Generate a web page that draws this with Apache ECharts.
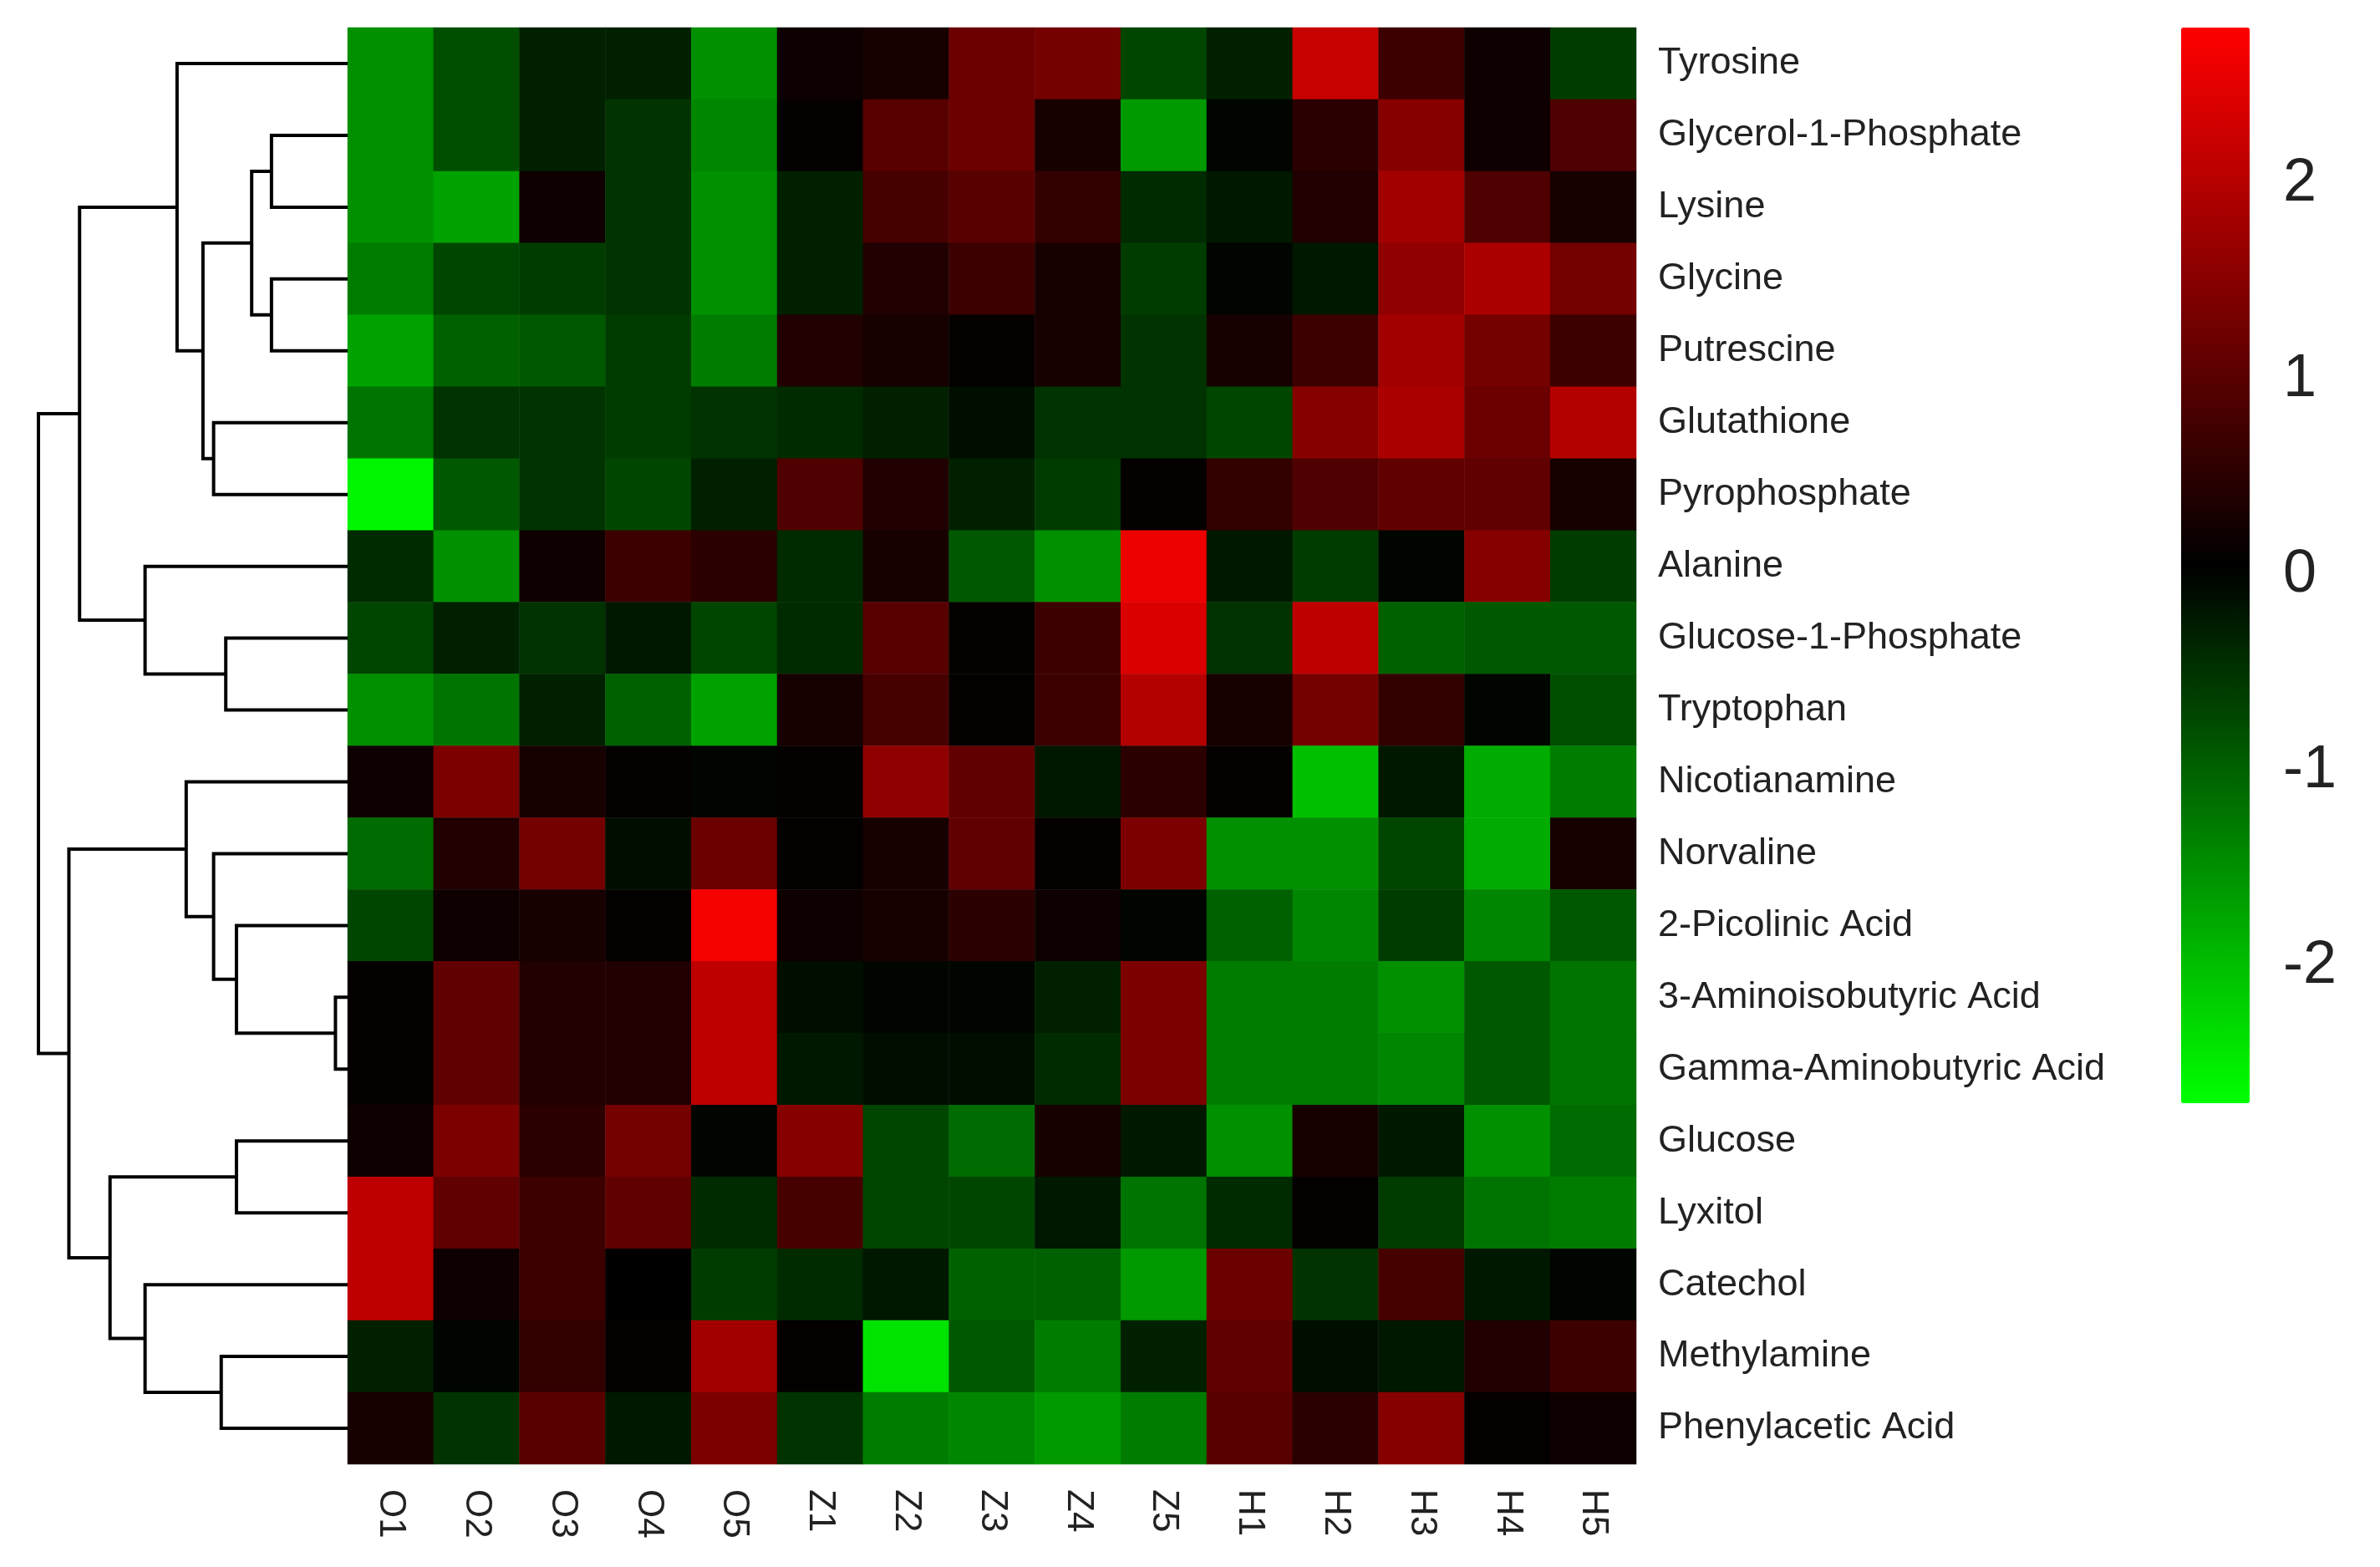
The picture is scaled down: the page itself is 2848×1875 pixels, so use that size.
<!DOCTYPE html>
<html style="height: 100%">
<head>
    <meta charset="utf-8">
</head>
<body style="height: 100%; margin: 0; background: #fff">
    <div id="container" style="height: 100%"></div>
    <script type="text/javascript" src="https://cdn.jsdelivr.net/npm/echarts@6/dist/echarts.min.js"></script>
    <script type="text/javascript">
        var samples = ['O1', 'O2', 'O3', 'O4', 'O5', 'Z1', 'Z2', 'Z3', 'Z4', 'Z5', 'H1', 'H2', 'H3', 'H4', 'H5'];
        var metabolites = ['Tyrosine', 'Glycerol-1-Phosphate', 'Lysine', 'Glycine', 'Putrescine', 'Glutathione',
            'Pyrophosphate', 'Alanine', 'Glucose-1-Phosphate', 'Tryptophan', 'Nicotianamine', 'Norvaline',
            '2-Picolinic Acid', '3-Aminoisobutyric Acid', 'Gamma-Aminobutyric Acid', 'Glucose', 'Lyxitol',
            'Catechol', 'Methylamine', 'Phenylacetic Acid'];
        var values = [
            [-1.5, -0.8, -0.3, -0.3, -1.5, 0.2, 0.3, 1.2, 1.3, -0.7, -0.3, 2.2, 0.7, 0.2, -0.6],
            [-1.5, -0.8, -0.3, -0.5, -1.4, 0.1, 1.0, 1.2, 0.3, -1.6, 0.0, 0.5, 1.5, 0.2, 0.9],
            [-1.5, -1.7, 0.2, -0.5, -1.5, -0.3, 0.8, 1.0, 0.6, -0.4, -0.2, 0.4, 1.8, 0.9, 0.3],
            [-1.3, -0.7, -0.6, -0.5, -1.5, -0.3, 0.4, 0.7, 0.3, -0.6, 0.0, -0.2, 1.6, 1.9, 1.3],
            [-1.7, -1.0, -0.9, -0.6, -1.3, 0.4, 0.3, 0.1, 0.3, -0.5, 0.3, 0.7, 1.8, 1.3, 0.7],
            [-1.2, -0.5, -0.5, -0.6, -0.5, -0.4, -0.3, -0.1, -0.5, -0.5, -0.7, 1.5, 1.9, 1.2, 2.0],
            [-2.6, -0.9, -0.5, -0.7, -0.3, 0.9, 0.4, -0.3, -0.6, 0.1, 0.6, 0.9, 1.1, 1.1, 0.3],
            [-0.4, -1.5, 0.2, 0.7, 0.5, -0.4, 0.3, -0.9, -1.5, 2.6, -0.2, -0.6, 0.0, 1.5, -0.6],
            [-0.7, -0.3, -0.5, -0.2, -0.7, -0.4, 1.0, 0.1, 0.7, 2.4, -0.5, 2.1, -1.0, -0.9, -0.9],
            [-1.5, -1.2, -0.3, -1.0, -1.7, 0.3, 0.8, 0.1, 0.7, 2.0, 0.3, 1.3, 0.6, 0.0, -0.8],
            [0.2, 1.4, 0.3, 0.1, 0.0, 0.1, 1.6, 1.1, -0.2, 0.5, 0.1, -2.0, -0.2, -1.8, -1.3],
            [-1.1, 0.4, 1.3, -0.1, 1.2, 0.1, 0.3, 1.1, 0.1, 1.4, -1.5, -1.5, -0.7, -1.8, 0.3],
            [-0.7, 0.2, 0.3, 0.1, 2.7, 0.2, 0.3, 0.5, 0.2, 0.0, -1.0, -1.4, -0.6, -1.4, -0.9],
            [0.1, 1.1, 0.4, 0.4, 2.1, -0.1, 0.0, 0.0, -0.3, 1.4, -1.3, -1.3, -1.5, -0.9, -1.2],
            [0.1, 1.1, 0.4, 0.4, 2.1, -0.2, -0.1, -0.1, -0.4, 1.4, -1.3, -1.3, -1.4, -0.9, -1.2],
            [0.2, 1.4, 0.5, 1.3, 0.0, 1.5, -0.7, -1.1, 0.3, -0.2, -1.5, 0.3, -0.2, -1.5, -1.1],
            [2.1, 1.1, 0.7, 1.1, -0.4, 0.8, -0.7, -0.7, -0.2, -1.2, -0.4, 0.1, -0.6, -1.2, -1.3],
            [2.1, 0.2, 0.7, 0.05, -0.6, -0.4, -0.2, -1.0, -1.0, -1.6, 1.2, -0.5, 0.8, -0.2, 0.0],
            [-0.3, 0.0, 0.6, 0.1, 1.8, 0.1, -2.4, -0.9, -1.3, -0.3, 1.1, -0.1, -0.2, 0.4, 0.7],
            [0.3, -0.5, 1.0, -0.2, 1.4, -0.5, -1.3, -1.4, -1.6, -1.3, 1.0, 0.5, 1.5, 0.1, 0.2]
        ];
        // dendrogram merges: [childA, childB, height]; leaves are 0..19, merged nodes are 'n<index>'
        var merges = [
            [1, 2, 50], [3, 4, 50], ['n0', 'n1', 63], [5, 6, 88], ['n2', 'n3', 95], [0, 'n4', 112],
            [8, 9, 80], [7, 'n6', 133], ['n5', 'n7', 176],
            [13, 14, 8], [12, 'n9', 73], [11, 'n10', 88], [10, 'n11', 106],
            [15, 16, 73], [18, 19, 83], [17, 'n14', 133], ['n13', 'n15', 156], ['n12', 'n16', 183],
            ['n8', 'n17', 203]
        ];
        var colorTicks = [-2, -1, 0, 1, 2];

        var heatData = [];
        values.forEach(function (row, r) {
            row.forEach(function (v, c) { heatData.push([c, r, v]); });
        });

        var nodes = [];
        function pos(k) {
            if (typeof k === 'number') return { y: k, h: 0 };
            return nodes[parseInt(k.slice(1))];
        }
        var links = [];
        merges.forEach(function (m) {
            var a = pos(m[0]), b = pos(m[1]), h = m[2];
            links.push({ coords: [[a.h, a.y], [h, a.y], [h, b.y], [b.h, b.y]] });
            nodes.push({ y: (a.y + b.y) / 2, h: h });
        });

        var font = 'Liberation Sans, Arial, sans-serif';
        var myChart = echarts.init(document.getElementById('container'));
        var option = {
            animation: false,
            grid: [
                { left: 416, right: 890, top: 33, bottom: 123 },
                { left: 46, right: 2432, top: 33, bottom: 123 },
                { left: 2610, right: 156, top: 33, bottom: 555 }
            ],
            xAxis: [
                {
                    type: 'category', data: samples, gridIndex: 0,
                    axisLine: { show: false }, axisTick: { show: false }, splitLine: { show: false },
                    axisLabel: { rotate: -90, fontSize: 44, color: '#222', fontFamily: font, margin: 30 }
                },
                { type: 'value', gridIndex: 1, min: 0, max: 203, inverse: true, show: false },
                { type: 'value', gridIndex: 2, min: 0, max: 1, show: false }
            ],
            yAxis: [
                {
                    type: 'category', data: metabolites, gridIndex: 0, inverse: true, position: 'right',
                    axisLine: { show: false }, axisTick: { show: false }, splitLine: { show: false },
                    axisLabel: { fontSize: 45, color: '#222', fontFamily: font, margin: 26, align: 'left' }
                },
                { type: 'value', gridIndex: 1, min: -0.5, max: 19.5, inverse: true, show: false },
                {
                    type: 'value', gridIndex: 2, min: -2.7, max: 2.8, position: 'right',
                    axisLine: { show: false }, axisTick: { show: false }, splitLine: { show: false },
                    axisLabel: {
                        fontSize: 72, color: '#222', fontFamily: font, margin: 40,
                        customValues: colorTicks
                    }
                }
            ],
            visualMap: {
                type: 'continuous', min: -2.7, max: 2.8, seriesIndex: 0,
                calculable: false, showLabel: false, text: ['', ''], padding: 0,
                left: 2610, top: 33, itemWidth: 82, itemHeight: 1287,
                inRange: { color: ['#00ff00', '#000000', '#ff0000'] }
            },
            series: [
                {
                    type: 'heatmap', xAxisIndex: 0, yAxisIndex: 0, data: heatData,
                    itemStyle: { borderWidth: 0 }
                },
                {
                    type: 'lines', coordinateSystem: 'cartesian2d', xAxisIndex: 1, yAxisIndex: 1,
                    polyline: true, data: links, silent: true,
                    lineStyle: { color: '#000', width: 4, opacity: 1 }
                }
            ]
        };
        myChart.setOption(option, true);
    </script>
</body>
</html>
